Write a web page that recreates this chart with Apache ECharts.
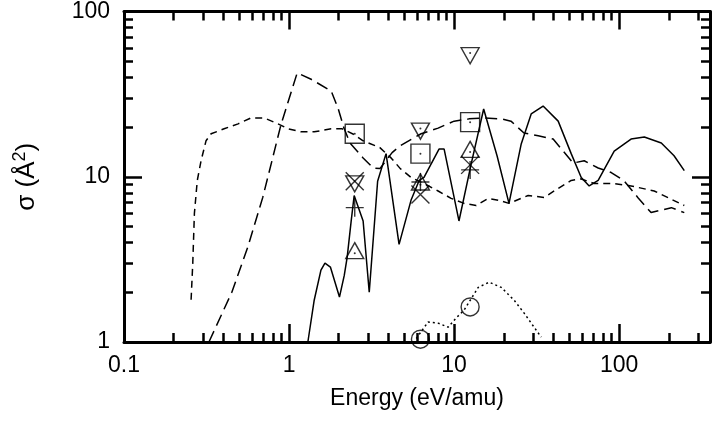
<!DOCTYPE html>
<html><head><meta charset="utf-8">
<script src="https://cdn.jsdelivr.net/npm/echarts@6/dist/echarts.min.js"></script>
<style>html,body{margin:0;padding:0;background:#fff}#c{width:712px;height:422px}</style>
</head><body><div id="c"></div>
<script>
// ---------- data ----------
const solidX = [1.30,1.42,1.56,1.65,1.78,2.02,2.16,2.25,2.38,2.48,2.81,3.06,3.44,3.87,4.64,5.48,6.14,6.57,8.1,8.7,10.7,12.7,15.1,18.2,21.5,25.5,29.3,34.6,42.7,51.2,58.9,65.8,74.6,93.3,118,142,180,215,248];
const solidY = [1.0,1.79,2.72,3.0,2.84,1.87,2.53,3.26,5.43,7.7,5.4,2.0,9.4,13.8,3.9,7.2,9.5,9.9,14.7,14.7,5.4,12.0,25.7,13.4,6.9,15.8,24.0,26.8,21.7,13.8,9.9,8.8,9.5,14.3,16.9,17.4,16.0,13.4,10.9];

const longDashX = [0.327,0.45,0.562,0.693,0.895,1.12,1.36,1.80,1.98,2.15,2.34,2.81,3.23,3.55,4.21,4.72,6.31,8.0,10.0,12.3,15.2,19.3,22.1,26.5,32.3,39.8,45.8,52.6,61.4,74.6,89.5,107,130,156,207,248];
const longDashY = [1.0,2.0,3.75,7.5,20.8,42.5,38.9,33.0,26.0,19.7,16.0,13.0,11.3,11.2,14.0,15.4,18.2,19.7,21.7,22.4,22.7,22.4,21.7,18.4,17.7,16.9,14.3,12.1,12.5,11.3,10.6,9.46,7.47,6.07,6.5,6.07];

const shortDashX = [0.255,0.261,0.267,0.278,0.293,0.314,0.337,0.404,0.491,0.589,0.705,0.857,0.986,1.18,1.42,1.80,2.1,2.48,2.81,3.55,4.15,4.72,5.48,6.57,8.0,9.59,11.5,13.6,16.1,18.7,21.5,28.1,35.1,42.7,51.2,58.9,70.5,93.3,118,163,248];
const shortDashY = [1.8,3.0,6.0,9.5,12.5,16.5,18.2,19.5,20.9,22.7,22.7,20.9,19.5,18.7,18.7,19.5,19.5,18.0,16.5,15.0,13.0,11.2,9.9,9.1,8.2,7.4,6.9,6.7,7.4,7.2,6.9,7.7,7.5,8.5,9.5,9.7,9.1,9.1,8.8,8.2,6.7];

const dotX = [5.9,6.95,8.0,9.2,10.3,11.5,14.0,16.3,19.3,23.1,26.5,30.5,33.7];
const dotY = [1.05,1.32,1.30,1.23,1.40,1.56,2.14,2.30,2.14,1.79,1.50,1.23,1.07];

const markerE = [2.5, 6.25, 12.5];
const squareY = [18.2, 13.8, 21.4];
const invTriY = [9.4, 19.6, 56.1];
const upTriY = [3.44, 8.95, 14.1];
const crossY = [9.4, 7.8, 11.8];
const plusY = [6.5, 9.3, 11.0];
const circleE = [6.25, 12.5];
const circleY = [1.04, 1.63];

const xMajorTicks = [0.1, 1, 10, 100];
const xMinorTicks = [0.2,0.3,0.4,0.5,0.6,0.7,0.8,0.9,2,3,4,5,6,7,8,9,20,30,40,50,60,70,80,90,200,300];
const yMajorTicks = [1, 10, 100];
const yMinorTicks = [2,3,4,5,6,7,8,9,20,30,40,50,60,70,80,90];

// ---------- chart ----------
const FONT = '"Liberation Sans", Arial, Helvetica, sans-serif';
const zip = (xs, ys) => xs.map((x, i) => [x, ys[i]]);
const fmt = v => String(+Number(v).toPrecision(3));
const X_MIN = 0.1, X_MAX = 355, Y_MIN = 1, Y_MAX = 100;

function xAxisDef(pos, ticks, len, withLine, withLabel) {
  const a = {
    type: 'log', logBase: 10, min: X_MIN, max: X_MAX, position: pos, gridIndex: 0,
    axisLine: { show: withLine, onZero: false, lineStyle: { color: '#000', width: 3 } },
    axisTick: { show: true, inside: true, length: len, customValues: ticks, lineStyle: { color: '#000', width: 2.5 } },
    axisLabel: withLabel ? { show: true, customValues: ticks, formatter: fmt, fontSize: 23, color: '#000', fontFamily: FONT, margin: 12 } : { show: false },
    splitLine: { show: false }, minorTick: { show: false }
  };
  if (withLabel) {
    a.name = 'Energy (eV/amu)';
    a.nameLocation = 'middle';
    a.nameGap = 45;
    a.nameTextStyle = { fontSize: 23, color: '#000', fontFamily: FONT };
  }
  return a;
}
function yAxisDef(pos, ticks, len, withLine, withLabel) {
  const a = {
    type: 'log', logBase: 10, min: Y_MIN, max: Y_MAX, position: pos, gridIndex: 0,
    axisLine: { show: withLine, onZero: false, lineStyle: { color: '#000', width: 3 } },
    axisTick: { show: true, inside: true, length: len, customValues: ticks, lineStyle: { color: '#000', width: 2.5 } },
    axisLabel: withLabel ? { show: true, customValues: ticks, formatter: fmt, fontSize: 23, color: '#000', fontFamily: FONT, margin: 14 } : { show: false },
    splitLine: { show: false }, minorTick: { show: false }
  };
  if (withLabel) {
    a.name = 'σ (Å{sup|2})';
    a.nameLocation = 'middle';
    a.nameRotate = 90;
    a.nameGap = 82;
    a.nameTextStyle = { fontSize: 26, color: '#000', fontFamily: FONT,
      rich: { sup: { fontSize: 18, color: '#000', fontFamily: FONT, padding: [0, 0, 13, 0] } } };
  }
  return a;
}

const lineBase = { type: 'line', showSymbol: false, symbol: 'none', xAxisIndex: 0, yAxisIndex: 0, clip: true, silent: true };
const hollow = { color: 'transparent', borderColor: '#000', borderWidth: 1.4 };
const scatterBase = { type: 'scatter', xAxisIndex: 0, yAxisIndex: 0, itemStyle: hollow, silent: true, z: 5 };

const option = {
  animation: false,
  backgroundColor: '#fff',
  grid: { left: 124, right: 2, top: 10, bottom: 80, containLabel: false },
  xAxis: [
    xAxisDef('bottom', xMajorTicks, 18, true, true),
    xAxisDef('bottom', xMinorTicks, 9, false, false),
    xAxisDef('top', xMajorTicks, 18, true, false),
    xAxisDef('top', xMinorTicks, 9, false, false)
  ],
  yAxis: [
    yAxisDef('left', yMajorTicks, 18, true, true),
    yAxisDef('left', yMinorTicks, 9, false, false),
    yAxisDef('right', yMajorTicks, 18, true, false),
    yAxisDef('right', yMinorTicks, 9, false, false)
  ],
  series: [
    Object.assign({}, lineBase, { name: 'solid', data: zip(solidX, solidY), lineStyle: { color: '#000', width: 1.5, type: 'solid' } }),
    Object.assign({}, lineBase, { name: 'long dash', data: zip(longDashX, longDashY), lineStyle: { color: '#000', width: 1.5, type: [12, 6] } }),
    Object.assign({}, lineBase, { name: 'short dash', data: zip(shortDashX, shortDashY), lineStyle: { color: '#000', width: 1.5, type: [7, 5] } }),
    Object.assign({}, lineBase, { name: 'dotted', data: zip(dotX, dotY), lineStyle: { color: '#000', width: 1.5, type: [2, 3] } }),
    Object.assign({}, scatterBase, { name: 'squares', symbol: 'rect', symbolSize: 19, data: zip(markerE, squareY) }),
    Object.assign({}, scatterBase, { name: 'inv tri', symbol: 'triangle', symbolRotate: 180, symbolSize: [18, 16], symbolOffset: [0, 2.7], data: zip(markerE, invTriY) }),
    Object.assign({}, scatterBase, { name: 'up tri', symbol: 'triangle', symbolSize: [18, 16], symbolOffset: [0, -2.7], data: zip(markerE, upTriY) }),
    Object.assign({}, scatterBase, { name: 'cross', symbol: 'path://M0,0L10,10M0,10L10,0', symbolSize: 18, data: zip(markerE, crossY) }),
    Object.assign({}, scatterBase, { name: 'plus', symbol: 'path://M5,0L5,10M0,5L10,5', symbolSize: 18, data: zip(markerE, plusY) }),
    Object.assign({}, scatterBase, { name: 'circles', symbol: 'circle', symbolSize: 18, data: zip(circleE, circleY) }),
    Object.assign({}, scatterBase, { name: 'dots', symbol: 'circle', symbolSize: 2, itemStyle: { color: '#000' },
      data: zip(markerE, squareY).concat(zip(markerE, invTriY), zip(markerE, upTriY)) })
  ]
};
const chart = echarts.init(document.getElementById('c'), null, { renderer: 'canvas' });
chart.setOption(option);
</script>
</body></html>
